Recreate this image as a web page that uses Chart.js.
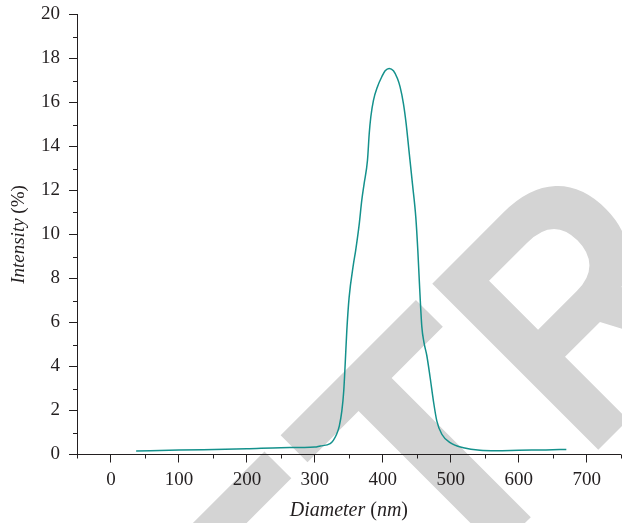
<!DOCTYPE html>
<html>
<head>
<meta charset="utf-8">
<script src="https://cdn.jsdelivr.net/npm/chart.js@4/dist/chart.umd.min.js"></script>
<style>
  html, body { margin: 0; padding: 0; background: #ffffff; }
  canvas { display: block; }
</style>
</head>
<body>
<canvas id="dls" width="622" height="523"></canvas>
<script>
// Particle size distribution (DLS): intensity vs hydrodynamic diameter
const diameterNm = [37, 100, 200, 250, 300, 308, 322.5, 332, 336, 339.7, 342.5, 344.6, 347, 350.4, 356.8, 360,
  365, 369, 372.5, 377.4, 380, 382.3, 386.2, 392, 398.5, 403.4, 409.3, 415.6, 421.5, 425.4, 430.3,
  434.3, 438.5, 443.6, 448.5, 451.5, 453.9, 457.4, 460.5, 464.7, 469.6, 474.4, 479.4, 486.8, 499, 518.5,
  543, 567, 600, 640, 670];
const intensityPct = [0.16, 0.2, 0.26, 0.31, 0.34, 0.39, 0.49, 0.92, 1.3, 1.98, 2.9, 4.11, 5.63, 7.14, 8.66, 9.27,
  10.4, 11.55, 12.31, 13.37, 14.59, 15.34, 16.1, 16.71, 17.17, 17.44, 17.55, 17.44, 17.09, 16.71, 15.95,
  15.04, 13.8, 12.3, 10.79, 9.27, 7.75, 5.8, 5.1, 4.5, 3.5, 2.44, 1.53, 0.92, 0.54, 0.31,
  0.19, 0.17, 0.19, 0.21, 0.23];

const xMajorTicks = [0, 100, 200, 300, 400, 500, 600, 700];
const xMinorTicks = [-50, 50, 150, 250, 350, 450, 550, 650, 750];
const yMajorTicks = [0, 2, 4, 6, 8, 10, 12, 14, 16, 18, 20];
const yMinorTicks = [1, 3, 5, 7, 9, 11, 13, 15, 17, 19];

const INK = '#231f20';
const SERIF = '"Liberation Serif", "DejaVu Serif", serif';

// Diagonal stamp behind the plot
const stampPlugin = {
  id: 'stamp',
  beforeDraw(chart) {
    const ctx = chart.ctx;
    ctx.save();
    ctx.fillStyle = '#d4d4d4';
    ctx.font = 'bold 325px "Liberation Sans", Arial, sans-serif';
    ctx.textBaseline = 'alphabetic';
    ctx.rotate(-Math.PI / 4);
    const wRE = ctx.measureText('RE').width;
    const wT = ctx.measureText('T').width;
    const wR = ctx.measureText('R').width;
    ctx.translate(0, 741);
    ctx.scale(1, 1.05);
    const tStart = -113;
    ctx.fillText('RET', tStart - wRE, 0);
    const rStart = tStart + wT;
    ctx.save();
    ctx.translate(rStart, 0);
    ctx.scale(0.9, 1);
    ctx.fillText('R', 0, 0);
    ctx.restore();
    ctx.fillText('ACTED', rStart + wR * 0.9, 0);
    ctx.restore();
  }
};

// Minor ticks and mixed-style axis titles
const axisDecor = {
  id: 'axisDecor',
  afterDraw(chart) {
    const ctx = chart.ctx;
    const xs = chart.scales.x, ys = chart.scales.y;
    const area = chart.chartArea;
    ctx.save();
    ctx.strokeStyle = INK;
    ctx.lineWidth = 1;
    ctx.beginPath();
    xMinorTicks.forEach(v => {
      const px = Math.round(xs.getPixelForValue(v)) + 0.5;
      ctx.moveTo(px, area.bottom);
      ctx.lineTo(px, area.bottom + 4);
    });
    yMinorTicks.forEach(v => {
      const py = Math.round(ys.getPixelForValue(v)) + 0.5;
      ctx.moveTo(area.left - 4, py);
      ctx.lineTo(area.left, py);
    });
    ctx.stroke();

    const drawRuns = (runs, cx, cy, rot) => {
      ctx.save();
      ctx.translate(cx, cy);
      ctx.rotate(rot);
      ctx.fillStyle = INK;
      ctx.textBaseline = 'alphabetic';
      let total = 0;
      runs.forEach(r => { ctx.font = r.f; total += ctx.measureText(r.t).width; });
      let x = -total / 2;
      runs.forEach(r => {
        ctx.font = r.f;
        ctx.fillText(r.t, x, 0);
        x += ctx.measureText(r.t).width;
      });
      ctx.restore();
    };
    const itX = 'italic 20px ' + SERIF, upX = '20px ' + SERIF;
    const itY = 'italic 19px ' + SERIF, upY = '19px ' + SERIF;
    drawRuns([{ t: 'Diameter', f: itX }, { t: ' (', f: upX }, { t: 'nm', f: itX }, { t: ')', f: upX }],
      (area.left + area.right) / 2, 516, 0);
    drawRuns([{ t: 'Intensity', f: itY }, { t: ' (%)', f: upY }],
      24, (area.top + area.bottom) / 2, -Math.PI / 2);
    ctx.restore();
  }
};

new Chart(document.getElementById('dls'), {
  type: 'line',
  data: {
    datasets: [{
      data: diameterNm.map((d, i) => ({ x: d, y: intensityPct[i] })),
      borderColor: '#14918c',
      borderWidth: 1.5,
      pointRadius: 0,
      fill: false,
      cubicInterpolationMode: 'monotone'
    }]
  },
  options: {
    responsive: false,
    devicePixelRatio: 1,
    animation: false,
    layout: { padding: { top: 14.5, right: 1.3, bottom: 0, left: 0 } },
    plugins: { legend: { display: false }, tooltip: { enabled: false } },
    scales: {
      x: {
        type: 'linear',
        min: -50,
        max: 750,
        afterBuildTicks: s => { s.ticks = xMajorTicks.map(v => ({ value: v })); },
        afterFit: s => { s.height = 68.5; s.paddingLeft = 0; s.paddingRight = 0; },
        grid: { display: true, drawOnChartArea: false, drawTicks: true, tickLength: 8, color: INK, lineWidth: 1 },
        border: { display: true, color: INK, width: 1 },
        ticks: { color: INK, font: { family: SERIF, size: 19 }, padding: 6, maxRotation: 0, autoSkip: false }
      },
      y: {
        type: 'linear',
        min: 0,
        max: 20,
        afterBuildTicks: s => { s.ticks = yMajorTicks.map(v => ({ value: v })); },
        afterFit: s => { s.width = 77; s.paddingTop = 0; s.paddingBottom = 0; },
        grid: { display: true, drawOnChartArea: false, drawTicks: true, tickLength: 8, color: INK, lineWidth: 1 },
        border: { display: true, color: INK, width: 1 },
        ticks: { color: INK, font: { family: SERIF, size: 19 }, padding: 9, autoSkip: false }
      }
    }
  },
  plugins: [stampPlugin, axisDecor]
});
</script>
</body>
</html>
